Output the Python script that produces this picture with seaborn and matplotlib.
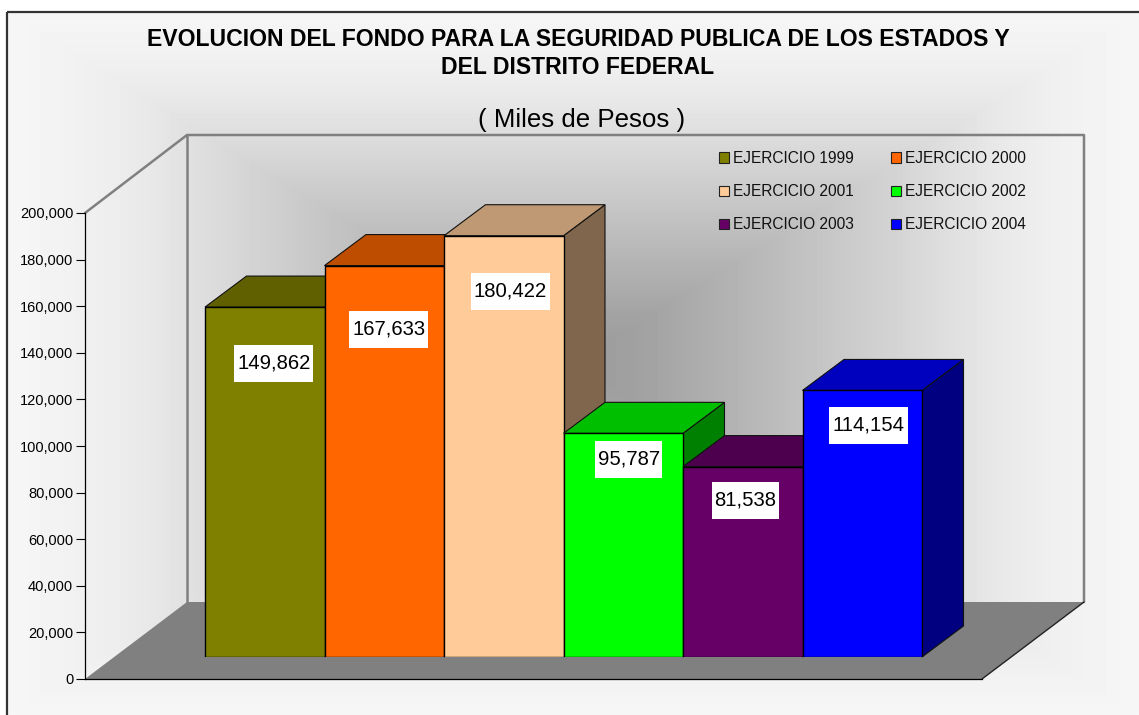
import numpy as np
import pandas as pd
import matplotlib
matplotlib.use("Agg")
import matplotlib.pyplot as plt
import matplotlib.transforms as mtransforms
from matplotlib.patches import Rectangle
from matplotlib.ticker import FuncFormatter
import seaborn as sns

# ---- data ----
categories = ["EJERCICIO 1999", "EJERCICIO 2000", "EJERCICIO 2001",
              "EJERCICIO 2002", "EJERCICIO 2003", "EJERCICIO 2004"]
values = [149862, 167633, 180422, 95787, 81538, 114154]
colors = ["#808000", "#FF6600", "#FFCC99", "#00FF00", "#660066", "#0000FF"]
title_lines = ["EVOLUCION DEL FONDO PARA LA SEGURIDAD PUBLICA DE LOS ESTADOS Y",
               "DEL DISTRITO FEDERAL"]
subtitle = "( Miles de Pesos )"
y_ticks = list(range(0, 200001, 20000))

# ---- layout (pixels) ----
W, H = 1139, 715
PX_PER_VAL = 467 / 200000
BAR_W = 119.5
label_offsets = [(9, -56), (4.5, -64), (6.5, -56), (5.5, -26), (2.5, -34), (6.5, -35)]

sns.set_theme(style="white")
plt.rcParams["font.family"] = ["Liberation Sans", "DejaVu Sans"]

fig = plt.figure(figsize=(W / 100, H / 100), dpi=100, facecolor="white")


def axes_px(x0, y0, x1, y1, **kw):
    return fig.add_axes([x0 / W, 1 - y1 / H, (x1 - x0) / W, (y1 - y0) / H], **kw)


# ---- background: gradient, walls, floor ----
bg = axes_px(0, 0, W, H, zorder=0)
bg.axis("off")
xx, yy = np.meshgrid(np.arange(8, W), np.arange(12, H))
t = np.maximum(np.abs(xx - 573) / 565, np.abs(yy - 363) / 351)
shade = np.interp(t, [0, 0.14, 0.68, 0.75, 0.84, 0.96, 1.0],
                  [0.60, 0.64, 0.88, 0.91, 0.937, 0.96, 0.965])
bg.imshow(shade, cmap="gray", vmin=0, vmax=1, extent=(8, W, H, 12), aspect="auto", zorder=0)
bg.plot([7, 7], [H, 12], color="#333333", lw=1.6, zorder=1, solid_capstyle="butt")
bg.plot([7, W], [12, 12], color="#333333", lw=1.6, zorder=1, solid_capstyle="butt")
bg.set_xlim(0, W)
bg.set_ylim(H, 0)
bg.fill([85, 187, 1084, 982], [679, 602, 602, 679], color="#808080", lw=0, zorder=2)
wall = dict(color="#808080", lw=1.8, zorder=3)
bg.plot([85, 187, 1084, 1084], [213, 135, 135, 602], **wall)
bg.plot([187, 187], [135, 602], **wall)
bg.plot([982, 1084], [679, 602], color="#222222", lw=1, zorder=4)

# ---- front plane: the value axis ----
front = axes_px(85, 213, 982, 679, zorder=1)
front.patch.set_alpha(0)
front.set_ylim(0, 200000)
front.set_xticks([])
front.set_yticks(y_ticks)
front.yaxis.set_major_formatter(FuncFormatter(lambda v, _: f"{int(v):,}"))
front.tick_params(axis="y", left=True, length=6.5, width=0.8, color="black",
                  labelsize=10.5, labelcolor="black", pad=2)
for s in ("top", "right"):
    front.spines[s].set_visible(False)
for s in ("left", "bottom"):
    front.spines[s].set_color("black")
    front.spines[s].set_linewidth(0.9)

# ---- bars plane ----
ax = axes_px(114, 190, 1011, 657, zorder=2)
ax.patch.set_alpha(0)
df = pd.DataFrame({"ejercicio": categories, "valor": values})
sns.barplot(data=df, x="ejercicio", y="valor", hue="ejercicio", palette=colors,
            width=1, saturation=1, edgecolor="black", linewidth=1,
            legend=True, ax=ax)
ax.set_xlim(-0.5 - 91 / BAR_W, 5.5 + 89 / BAR_W)
ax.set_ylim(0, 200000)

dx = 41.5 / BAR_W
dy = 31 / PX_PER_VAL


def scaled(c, f):
    r = np.array(matplotlib.colors.to_rgb(c)) * f
    return tuple(r)


bars = [p for c in ax.containers for p in c]
for i, (bar, v, c) in enumerate(zip(bars, values, colors)):
    z = 3 + 3 * i
    bar.set_zorder(z + 2)
    x0, x1 = bar.get_x(), bar.get_x() + bar.get_width()
    ax.fill([x1, x1 + dx, x1 + dx, x1], [0, dy, v + dy, v], facecolor=scaled(c, 0.5),
            edgecolor="#111111", lw=0.8, zorder=z, clip_on=False)
    ax.fill([x0, x1, x1 + dx, x0 + dx], [v, v, v + dy, v + dy], facecolor=scaled(c, 0.75),
            edgecolor="#111111", lw=0.8, zorder=z + 1, clip_on=False)
    # value label with white box
    off = label_offsets[i]
    text = f"{v:,}"
    w = 79 if len(text) == 7 else 67
    anchor = mtransforms.ScaledTranslation(x0 + 0.5, v, ax.transData)
    ax.add_patch(Rectangle((off[0] - w / 2, off[1] - 18.5), w, 37, transform=anchor,
                           facecolor="white", edgecolor="none", zorder=50, clip_on=False))
    ax.annotate(text, xy=(x0 + 0.5, v), xytext=(off[0] * 0.72, (off[1] + 0.5) * 0.72),
                textcoords="offset points", ha="center", va="center",
                fontsize=14.6, color="black", zorder=51, annotation_clip=False)

ax.axis("off")

# ---- legend (row-wise order) ----
handles, labels = ax.get_legend_handles_labels()
order = [0, 2, 4, 1, 3, 5]
leg = ax.legend([handles[k] for k in order], [labels[k] for k in order], ncols=2,
                frameon=False, fontsize=11.2,
                loc="upper left", bbox_to_anchor=(719 / W, 1 - 151 / H),
                bbox_transform=fig.transFigure, borderpad=0, borderaxespad=0,
                handlelength=0.64, handleheight=0.64, handletextpad=0.26,
                columnspacing=2.4, labelspacing=1.17)
leg.set_zorder(60)
for h in leg.legend_handles:
    h.set_edgecolor("#222222")
    h.set_linewidth(0.8)
for txt in leg.get_texts():
    txt.set_color("#111111")

# ---- titles ----
fig.text(578 / W, 1 - 39 / H, title_lines[0], ha="center", va="center",
         fontsize=16.6, fontweight="bold", color="black")
fig.text(578 / W, 1 - 68 / H, title_lines[1], ha="center", va="center",
         fontsize=16.6, fontweight="bold", color="black")
fig.text(581.5 / W, 1 - 120 / H, subtitle, ha="center", va="center",
         fontsize=18.6, color="black")

fig.savefig("out.png", dpi=100)
